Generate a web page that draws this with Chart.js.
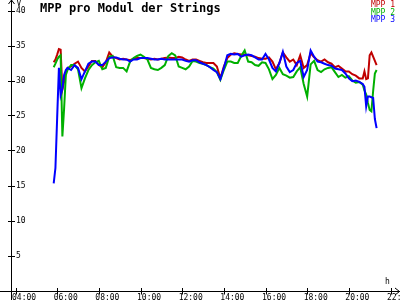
<!DOCTYPE html>
<html><head><meta charset="utf-8">
<script src="https://cdn.jsdelivr.net/npm/chart.js@4/dist/chart.umd.min.js"></script>
<style>html,body{margin:0;padding:0;background:#fff}canvas{display:block}</style>
</head><body>
<canvas id="c" width="400" height="300"></canvas>
<script>
const times = ["05:50","05:55","06:00","06:05","06:10","06:15","06:20","06:25","06:30",
"06:40","06:50",
"07:00","07:10","07:20","07:30","07:40","07:50",
"08:00","08:10","08:20","08:30","08:40","08:50",
"09:00","09:10","09:20","09:30","09:40","09:50",
"10:00","10:10","10:20","10:30","10:40","10:50",
"11:00","11:10","11:20","11:30","11:40","11:50",
"12:00","12:10","12:20","12:30","12:40","12:50",
"13:00","13:10","13:20","13:30","13:40","13:50",
"14:00","14:10","14:20","14:30","14:40","14:50",
"15:00","15:10","15:20","15:30","15:40","15:50",
"16:00","16:10","16:20","16:30","16:40","16:50",
"17:00","17:10","17:20","17:30","17:40","17:50",
"18:00","18:10","18:20","18:30","18:40","18:50",
"19:00","19:10","19:20","19:30","19:40","19:50",
"20:00","20:10","20:20","20:30","20:40",
"20:45","20:50","20:55","21:00","21:05","21:10","21:15","21:20"];

const mpp1 = [32.6,33.0,33.7,34.5,34.4,28.7,29.8,31.1,31.8,
32.0,32.4,
32.7,31.8,31.3,32.0,32.8,32.8,
32.2,31.9,32.6,34.0,33.4,33.2,
33.0,33.1,33.0,32.9,33.1,33.2,
33.2,33.2,33.1,33.0,33.1,33.0,
33.1,33.2,33.3,33.2,33.2,33.4,
33.3,33.0,32.8,33.0,33.0,32.8,
32.6,32.5,32.5,32.5,32.0,30.3,
32.0,33.2,33.7,33.9,33.8,33.7,
33.7,33.6,33.5,33.4,33.2,33.1,
33.1,33.3,32.7,31.6,32.5,34.0,
33.3,32.7,33.0,32.2,33.6,31.8,
32.2,33.9,33.3,32.9,32.7,33.0,
32.6,32.4,31.9,32.1,31.7,31.3,
31.3,30.9,30.7,30.3,30.3,
31.3,30.2,30.3,33.6,34.0,33.4,32.8,32.2];

const mpp2 = [31.9,32.4,33.0,33.4,33.6,22.0,26.0,30.8,31.5,
32.2,32.2,
31.6,28.9,30.3,31.5,32.2,32.6,
32.8,31.6,31.8,33.4,33.5,31.9,
31.8,31.8,31.3,32.7,33.2,33.5,
33.7,33.4,33.0,31.8,31.6,31.5,
31.8,32.2,33.5,33.9,33.6,32.0,
31.8,31.6,32.0,32.8,32.7,32.5,
32.4,32.2,31.9,31.7,31.2,30.1,
31.5,32.7,32.7,32.5,32.5,33.5,
34.3,32.7,32.6,32.2,32.1,32.6,
32.5,31.6,30.2,30.8,31.8,30.9,
30.7,30.4,30.5,31.3,31.9,29.5,
27.7,32.3,32.8,31.5,31.2,31.6,
31.8,31.9,31.2,30.5,30.8,30.4,
30.6,30.0,29.7,29.8,29.4,
28.6,28.0,26.8,25.8,25.6,28.5,31.0,31.5];

const mpp3 = [15.3,17.5,24.7,31.8,27.9,28.8,30.8,31.5,31.8,
31.5,32.2,
31.8,30.2,31.3,32.4,32.7,32.7,
32.2,32.2,32.7,33.2,33.3,33.3,
33.1,33.0,33.0,32.7,33.0,33.0,
33.2,33.2,33.2,33.1,33.0,33.0,
33.1,33.0,33.0,33.0,33.0,33.0,
33.0,32.8,32.7,32.9,32.9,32.6,
32.4,32.2,31.9,31.5,31.2,30.2,
31.8,33.6,33.8,33.7,33.8,33.4,
33.6,33.7,33.6,33.3,33.0,33.0,
33.8,33.0,31.8,31.3,32.5,34.1,
32.0,31.2,31.5,32.5,32.8,30.5,
31.5,34.3,33.4,32.7,32.6,32.4,
32.2,32.1,31.7,31.6,31.5,31.0,
30.3,29.9,30.0,29.8,29.5,
29.1,26.3,27.7,27.7,27.6,27.5,24.5,23.2];

const seriesNames = ["MPP 1","MPP 2","MPP 3"];
const seriesColors = ["#c00000","#00b000","#0000ff"];
const yTicks = [5,10,15,20,25,30,35,40];
const xTickLabels = ["04:00","06:00","08:00","10:00","12:00","14:00","16:00","18:00","20:00","22:00"];
const titleText = "MPP pro Modul der Strings";
const yUnit = "V";
const xUnit = "h";

const toH = s => { const [h,m] = s.split(":").map(Number); return h + m/60; };
const pts = arr => arr.map((v,i) => ({x: toH(times[i]), y: v}));

const MONO = "'DejaVu Sans Mono', monospace";

const axesPlugin = {
  id: 'axesPlugin',
  afterDraw(chart) {
    const ctx = chart.ctx, xs = chart.scales.x, ys = chart.scales.y;
    const ax = Math.round(xs.getPixelForValue(3.76)) + 0.5;
    const ay = Math.round(ys.getPixelForValue(0)) + 0.5;
    ctx.save();
    ctx.strokeStyle = '#000'; ctx.fillStyle = '#000'; ctx.lineWidth = 1;
    ctx.beginPath();
    ctx.moveTo(ax, 0); ctx.lineTo(ax, chart.height);
    ctx.moveTo(0, ay); ctx.lineTo(chart.width, ay);
    // arrows
    ctx.moveTo(ax - 3, 4); ctx.lineTo(ax, 0); ctx.lineTo(ax + 3, 4);
    ctx.moveTo(chart.width - 5, ay - 3.5); ctx.lineTo(chart.width - 0.5, ay); ctx.lineTo(chart.width - 5, ay + 3.5);
    // y ticks
    yTicks.forEach(v => {
      const py = Math.round(ys.getPixelForValue(v)) + 0.5;
      ctx.moveTo(ax - 3.5, py); ctx.lineTo(ax + 3.5, py);
    });
    // x ticks
    xTickLabels.forEach(l => {
      const px = Math.round(xs.getPixelForValue(toH(l))) + 0.5;
      ctx.moveTo(px, ay - 3.5); ctx.lineTo(px, ay + 3);
    });
    ctx.stroke();

    ctx.font = "8px " + MONO;
    ctx.textBaseline = 'middle'; ctx.textAlign = 'left';
    yTicks.forEach(v => {
      const py = ys.getPixelForValue(v);
      ctx.fillText(String(v), ax + 4.5, py);
    });
    ctx.textBaseline = 'alphabetic';
    xTickLabels.forEach(l => {
      const px = xs.getPixelForValue(toH(l));
      ctx.fillText(l, px - 3.5, 300);
    });
    ctx.fillText(yUnit, ax + 5, 6);
    ctx.fillText(xUnit, 385, 284);

    ctx.font = "bold 12px " + MONO;
    ctx.fillText(titleText, 40, 12);

    ctx.font = "8px " + MONO;
    ctx.textAlign = 'right';
    seriesNames.forEach((n, i) => {
      ctx.fillStyle = seriesColors[i];
      ctx.fillText(n, 395, 7 + i * 7.5);
    });
    ctx.restore();
  }
};

new Chart(document.getElementById('c'), {
  type: 'line',
  data: {
    datasets: seriesNames.map((n, i) => ({
      label: n,
      data: pts([mpp1, mpp2, mpp3][i]),
      borderColor: seriesColors[i],
      borderWidth: 2,
      pointRadius: 0,
      tension: 0,
      fill: false,
      order: 2 - i
    }))
  },
  options: {
    responsive: false,
    animation: false,
    devicePixelRatio: 1,
    layout: { padding: 0 },
    plugins: { legend: { display: false }, tooltip: { enabled: false }, title: { display: false } },
    scales: {
      x: { type: 'linear', min: 3.256, max: 22.456, display: false },
      y: { type: 'linear', min: -9.5/7, max: 41.5, display: false }
    }
  },
  plugins: [axesPlugin]
});
</script>
</body></html>
